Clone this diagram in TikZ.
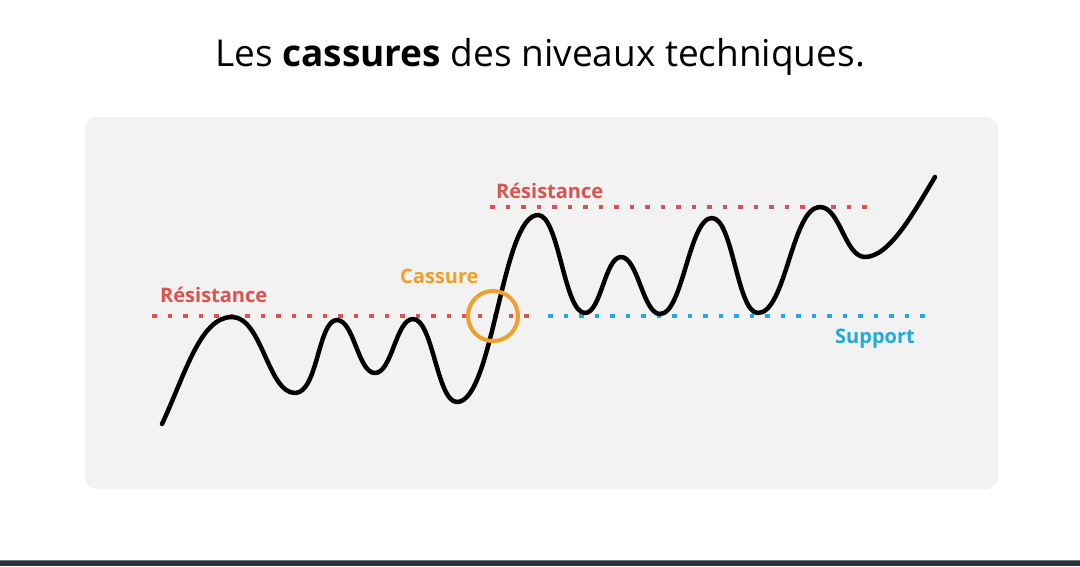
\documentclass[tikz,border=0pt]{standalone}
\usepackage{fontspec}
\setmainfont{Open Sans}
\definecolor{panel}{HTML}{F2F2F2}
\definecolor{resred}{HTML}{D9534F}
\definecolor{casorange}{HTML}{EFA02A}
\definecolor{supblue}{HTML}{22AAE0}
\definecolor{barDark}{HTML}{2B333C}
\definecolor{barLine}{HTML}{6E767E}
\tikzset{
  level/.style={line width=4.5pt, dash pattern=on 4.5pt off 11pt},
  lbl/.style={font=\fontsize{20}{22}\selectfont\bfseries, inner sep=0pt, anchor=base west},
  price/.style={line width=4.5pt, black, line cap=round, line join=round}
}
\begin{document}
\begin{tikzpicture}[x=1pt,y=-1pt]
\useasboundingbox (0,0) rectangle (1080,566);
\fill[white] (0,0) rectangle (1080,566);
% bottom bar
\fill[barDark] (0,560) rectangle (1080,566);
\fill[barLine] (0,560) rectangle (1080,561);
% panel
\fill[panel, rounded corners=12pt] (85,117) rectangle (998,489);
% title
\node[font=\fontsize{37}{44}\selectfont, inner sep=0pt, anchor=base] (title) at (540,66) {Les \textbf{cassures} des niveaux techniques.};
% levels
\draw[level, resred] (152,316) -- (534,316);
\draw[level, supblue] (548,316) -- (930,316);
\draw[level, resred] (490,207) -- (874,207);
% price curve
\draw[price] (162,424)
  .. controls (185,375) and (200,317) .. (232,317)
  .. controls (262,317) and (268,393) .. (295,393)
  .. controls (318,393) and (318,320) .. (337,320)
  .. controls (354,320) and (358,373) .. (375,373)
  .. controls (392,373) and (396,319) .. (413,319)
  .. controls (433,319) and (437,402) .. (457,402)
  .. controls (493,402) and (502,215) .. (538,215)
  .. controls (559,215) and (564,313) .. (585,313)
  .. controls (601,313) and (605,257) .. (621,257)
  .. controls (638,257) and (643,314) .. (660,314)
  .. controls (683,314) and (689,218) .. (712,218)
  .. controls (733,218) and (737,313) .. (758,313)
  .. controls (786,313) and (792,207) .. (820,207)
  .. controls (840,207) and (845,257) .. (865,257)
  .. controls (890,257) and (915,210) .. (935,177);
% circle
\node[draw=casorange, line width=4pt, circle, minimum size=50pt, inner sep=0pt] (cassure) at (493,316) {};
% labels
\node[lbl, text=resred] (res1) at (160,302) {Résistance};
\node[lbl, text=resred] (res2) at (496,198) {Résistance};
\node[lbl, text=casorange] (cas) at (400,283) {Cassure};
\node[lbl, text=supblue] (sup) at (835,343) {Support};
\end{tikzpicture}
\end{document}
